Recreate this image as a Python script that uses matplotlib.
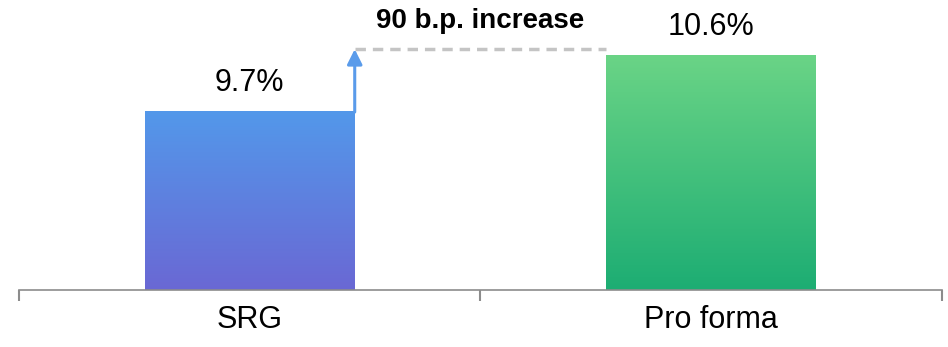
import numpy as np
import matplotlib.pyplot as plt
from matplotlib.colors import LinearSegmentedColormap

plt.rcParams['font.family'] = ['Liberation Sans', 'DejaVu Sans']

categories = ['SRG', 'Pro forma']
values = [9.7, 10.6]
value_labels = ['9.7%', '10.6%']
change_label = '90 b.p. increase'

# top / bottom colours of each bar's vertical gradient
gradients = [('#5398EA', '#6A68D4'), ('#6AD486', '#1DAD73')]

fig = plt.figure(figsize=(9.48, 3.47), dpi=100)
ax = fig.add_axes([0.02, 0.164, 0.9737, 0.836])

x = np.arange(len(categories))
width = 0.455
ymin, ymax = 6.84, 11.5

bars = ax.bar(x, values, width=width, bottom=0, color='none', zorder=2)
grad = np.linspace(0, 1, 256).reshape(-1, 1)
for b, (top, bot) in zip(bars, gradients):
    cmap = LinearSegmentedColormap.from_list('g', [top, bot])
    x0 = b.get_x()
    ax.imshow(grad, cmap=cmap, aspect='auto', zorder=2,
              extent=[x0, x0 + b.get_width(), ymin, b.get_height()])

for b, lab in zip(bars, value_labels):
    ax.annotate(lab, (b.get_x() + b.get_width() / 2, b.get_height()),
                xytext=(0, 10), textcoords='offset points',
                ha='center', va='bottom', fontsize=22, color='black')

# arrow from the first bar up to the level of the second, with dashed guide
x_left = bars[0].get_x() + width
x_right = bars[1].get_x()
level = values[1] + 0.11
ax.plot([x_left, x_right], [level, level], color='#C4C4C4', lw=2.5,
        ls=(0, (3, 2)), zorder=1)
ax.annotate('', xy=(x_left, level), xytext=(x_left, values[0]),
            arrowprops=dict(arrowstyle='-|>,head_length=0.9,head_width=0.45',
                            color='#5A9BEA', lw=2.2, shrinkA=0, shrinkB=0))
ax.text((x_left + x_right) / 2, level + 0.25, change_label, ha='center',
        va='bottom', fontsize=20, fontweight='bold', color='black')

ax.set_xlim(-0.5, 1.5)
ax.set_ylim(ymin, ymax)
for s in ['top', 'right', 'left']:
    ax.spines[s].set_visible(False)
ax.spines['bottom'].set_color('#8C8C8C')
ax.spines['bottom'].set_linewidth(1.2)
ax.set_yticks([])
ax.set_xticks([-0.5, 0.5, 1.5])
ax.set_xticklabels([])
ax.tick_params(axis='x', which='major', length=8, width=1.5, color='#8C8C8C')
ax.set_xticks(x, minor=True)
ax.set_xticklabels(categories, minor=True, fontsize=22, color='black')
ax.tick_params(axis='x', which='minor', length=0, pad=11)

fig.savefig('out.png', dpi=100)
